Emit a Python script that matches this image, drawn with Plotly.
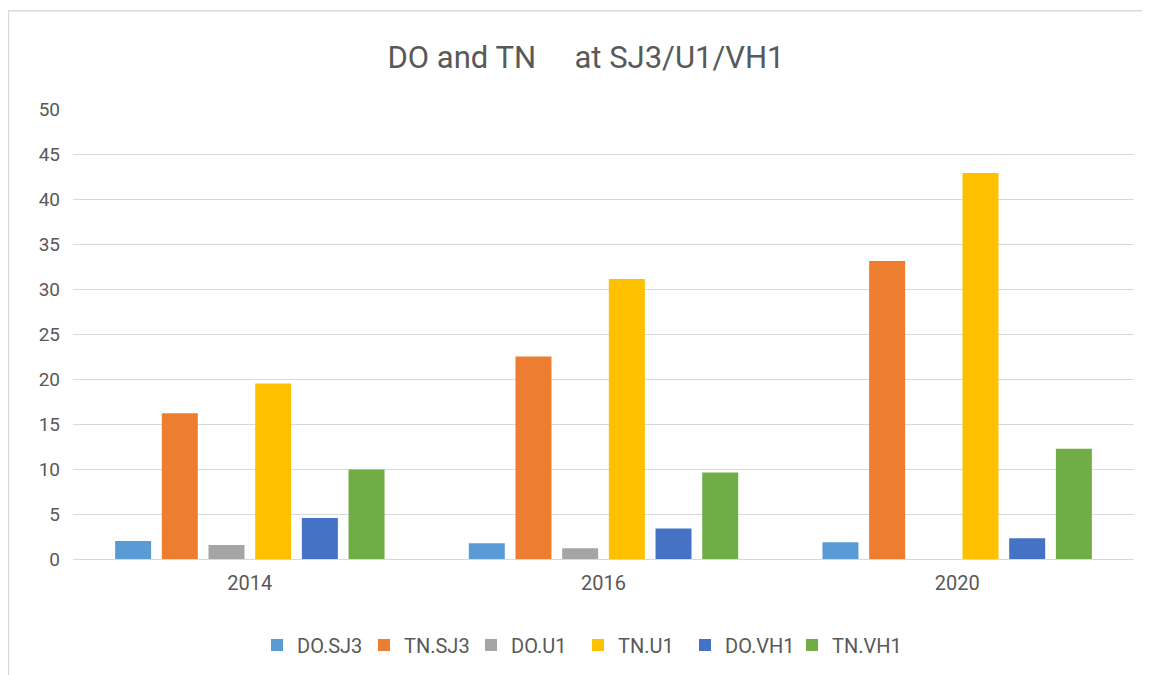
import plotly.graph_objects as go

years = ["2014", "2016", "2020"]
series_names = ["DO.SJ3", "TN.SJ3", "DO.U1", "TN.U1", "DO.VH1", "TN.VH1"]
do_sj3 = [2.0, 1.75, 1.85]
tn_sj3 = [16.2, 22.5, 33.1]
do_u1 = [1.55, 1.2, 0]
tn_u1 = [19.5, 31.1, 42.9]
do_vh1 = [4.55, 3.4, 2.3]
tn_vh1 = [9.95, 9.6, 12.25]
colors = ["#5B9BD5", "#ED7D31", "#A5A5A5", "#FFC000", "#4472C4", "#70AD47"]

values = [do_sj3, tn_sj3, do_u1, tn_u1, do_vh1, tn_vh1]
FONT = "Roboto, Arial, sans-serif"

fig = go.Figure()
for name, vals, c in zip(series_names, values, colors):
    fig.add_trace(go.Bar(x=years, y=vals, name=name, marker_color=c,
                         marker_line_width=0))

OFF = 8  # page body margin
W, H = 1150 - OFF, 675 - OFF
L, R, T, B = 73 - OFF, 16, 109 - OFF, 675 - 560
pw, ph = W - L - R, H - T - B

def px_x(x):  # screen px -> paper
    return (x - OFF - L) / pw

def px_y(y):
    return (H - B - (y - OFF)) / ph

fig.update_layout(
    width=W, height=H,
    margin=dict(l=L, r=R, t=T, b=B),
    paper_bgcolor="white", plot_bgcolor="white",
    barmode="group", bargap=0.208, bargroupgap=0.229,
    font=dict(family=FONT, color="#595959", size=18),
    title=dict(text="DO and TN\u00a0\u00a0\u00a0\u00a0\u00a0at SJ3/U1/VH1",
               x=px_x(586), xanchor="center", xref="paper",
               y=1 - (57 - OFF) / H, yanchor="middle",
               font=dict(size=31, color="#595959", family=FONT)),
    yaxis=dict(range=[0, 50], dtick=5, gridcolor="#D9D9D9", gridwidth=1.3,
               zeroline=False, showline=False, ticks="",
               tickfont=dict(size=19, color="#595959"), ticklabelstandoff=12),
    xaxis=dict(showline=True, linecolor="#D9D9D9", linewidth=1.3, ticks="",
               tickfont=dict(size=20, color="#595959"), showgrid=False,
               ticklabelstandoff=6),
    legend=dict(orientation="h", x=px_x(578), xanchor="center",
                y=px_y(645), yanchor="middle",
                font=dict(size=20, color="#595959"),
                itemwidth=30, entrywidth=62, entrywidthmode="pixels",
                tracegroupgap=0),
    showlegend=True,
)

fig.add_shape(type="rect", xref="paper", yref="paper",
              x0=px_x(8.5), x1=px_x(1200), y0=px_y(720), y1=px_y(10.5),
              line=dict(color="#D9D9D9", width=1.5), fillcolor="rgba(0,0,0,0)",
              layer="below")

fig.write_html("out.html")
